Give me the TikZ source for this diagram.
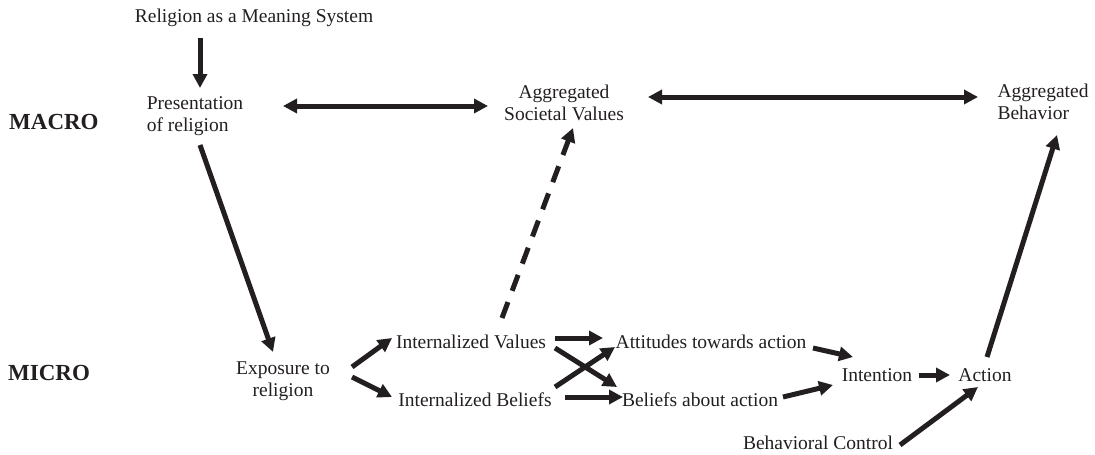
\documentclass[tikz,border=0pt]{standalone}
\usepackage{fontspec}
\setmainfont{Liberation Serif}
\usetikzlibrary{arrows.meta}
\definecolor{ink}{RGB}{35,31,32}
\begin{document}
\begin{tikzpicture}[x=1pt,y=-1pt,
  lbl/.style={inner sep=0pt,text=ink,font=\fontsize{19.5}{22}\selectfont},
  lvl/.style={inner sep=0pt,text=ink,font=\fontsize{23}{26}\selectfont\bfseries,anchor=west},
  arr/.style={draw=ink,line width=5pt,-{Triangle[width=14pt,length=14pt]}},
  darr/.style={draw=ink,line width=5pt,{Triangle[width=14pt,length=14pt]}-{Triangle[width=14pt,length=14pt]}},
  dasharr/.style={arr,dash pattern=on 17pt off 12pt}]
\useasboundingbox (0,0) rectangle (1095,455);
\node[lbl] (rel) at (254,18) {Religion as a Meaning System};
\node[lbl,align=left] (pres) at (195,116) {Presentation\\of religion};
\node[lbl,align=center] (asv) at (564,103) {Aggregated\\Societal Values};
\node[lbl,align=left] (ab) at (1043,102) {Aggregated\\Behavior};
\node[lvl] (macro) at (9,122) {MACRO};
\node[lvl] (micro) at (8,373) {MICRO};
\node[lbl,align=center] (exp) at (283,381) {Exposure to\\religion};
\node[lbl] (iv) at (471,342) {Internalized Values};
\node[lbl] (ib) at (475,400) {Internalized Beliefs};
\node[lbl] (att) at (711,342) {Attitudes towards action};
\node[lbl] (baa) at (700,400) {Beliefs about action};
\node[lbl] (int) at (877,375) {Intention};
\node[lbl] (act) at (985,375) {Action};
\node[lbl] (bc) at (818,443) {Behavioral Control};

\draw[arr] ([shift={(-54,20)}]rel.center) -- ([shift={(5,-28)}]pres.center);
\draw[darr] ([shift={(88,-10)}]pres.center) -- ([shift={(-76,3)}]asv.center);
\draw[darr] ([shift={(84,-6)}]asv.center) -- ([shift={(-65,-5)}]ab.center);
\draw[arr] ([shift={(5,29)}]pres.center) -- ([shift={(-10,-29)}]exp.center);
\draw[arr] ([shift={(69,-14)}]exp.center) -- ([shift={(-79,-4)}]iv.center);
\draw[arr] ([shift={(69,-4)}]exp.center) -- ([shift={(-83,-3)}]ib.center);
\draw[arr] ([shift={(84,-4)}]iv.center) -- ([shift={(-108,-4)}]att.center);
\draw[arr] ([shift={(84,6)}]iv.center) -- ([shift={(-83,-13)}]baa.center);
\draw[arr] ([shift={(80,-13)}]ib.center) -- ([shift={(-96,5)}]att.center);
\draw[arr] ([shift={(90,-3)}]ib.center) -- ([shift={(-77,-3)}]baa.center);
\draw[arr] ([shift={(102,6)}]att.center) -- ([shift={(-24,-18)}]int.center);
\draw[arr] ([shift={(83,-3)}]baa.center) -- ([shift={(-44,10)}]int.center);
\draw[arr] ([shift={(42,0)}]int.center) -- ([shift={(-35,0)}]act.center);
\draw[arr] ([shift={(82,2)}]bc.center) -- ([shift={(-7,12)}]act.center);
\draw[arr] ([shift={(2,-18)}]act.center) -- ([shift={(14,33)}]ab.center);
\draw[dasharr] ([shift={(31,-24)}]iv.center) -- ([shift={(9,25)}]asv.center);
\end{tikzpicture}
\end{document}
